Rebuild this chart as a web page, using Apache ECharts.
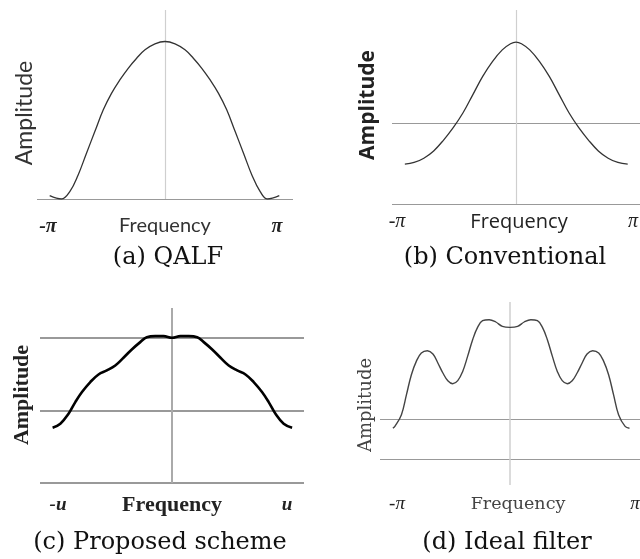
<!DOCTYPE html>
<html><head><meta charset="utf-8">
<script src="https://cdn.jsdelivr.net/npm/echarts@6/dist/echarts.min.js"></script>
<style>html,body{margin:0;padding:0;background:#fff}#c{width:640px;height:559px}</style>
</head><body><div id="c"></div>
<script>
// (a) QALF
var freqA = [-1.009, -0.906, -0.833, -0.76, -0.687, -0.614, -0.54, -0.467, -0.395, -0.322, -0.248, -0.175, -0.088, 0,
             0.088, 0.175, 0.248, 0.322, 0.395, 0.467, 0.54, 0.614, 0.687, 0.76, 0.833, 0.895, 1.0];
var ampA  = [0.021, 0.0, 0.047, 0.153, 0.291, 0.428, 0.566, 0.672, 0.756, 0.830, 0.894, 0.947, 0.985, 1.0,
             0.985, 0.947, 0.894, 0.830, 0.756, 0.672, 0.566, 0.428, 0.291, 0.153, 0.047, 0.0, 0.021];
// (b) Conventional
var freqB = [-0.995, -0.912, -0.825, -0.737, -0.65, -0.562, -0.474, -0.386, -0.298, -0.211, -0.123, -0.049, 0,
             0.049, 0.123, 0.211, 0.298, 0.386, 0.474, 0.562, 0.65, 0.737, 0.825, 0.912, 1.0];
var ampB  = [-0.507, -0.487, -0.434, -0.344, -0.213, -0.057, 0.127, 0.352, 0.577, 0.76, 0.904, 0.98, 1.0,
             0.98, 0.904, 0.76, 0.577, 0.352, 0.127, -0.057, -0.213, -0.344, -0.434, -0.487, -0.507];
// (c) Proposed scheme
var freqC = [-1.004, -0.939, -0.87, -0.813, -0.757, -0.687, -0.618, -0.548, -0.477, -0.408, -0.338, -0.267, -0.212, -0.141, -0.071, 0,
             0.071, 0.141, 0.212, 0.267, 0.338, 0.408, 0.477, 0.548, 0.618, 0.687, 0.757, 0.813, 0.87, 0.939, 1.01];
var ampC  = [-0.238, -0.183, -0.046, 0.114, 0.252, 0.39, 0.495, 0.55, 0.619, 0.725, 0.839, 0.94, 1.008, 1.022, 1.022, 1.0,
             1.022, 1.022, 1.008, 0.94, 0.839, 0.725, 0.619, 0.55, 0.495, 0.39, 0.252, 0.114, -0.046, -0.183, -0.238];
// (d) Ideal filter
var freqD = [-1.0, -0.983, -0.927, -0.884, -0.842, -0.8, -0.757, -0.706, -0.658, -0.616, -0.573, -0.531, -0.489, -0.446, -0.404, -0.362, -0.319, -0.277, -0.234, -0.178, -0.121, -0.065, 0,
             0.065, 0.121, 0.178, 0.234, 0.277, 0.319, 0.362, 0.404, 0.446, 0.489, 0.531, 0.573, 0.616, 0.658, 0.706, 0.757, 0.8, 0.842, 0.884, 0.927, 0.983, 1.02];
var ampD  = [-0.23, -0.185, 0.108, 0.608, 1.108, 1.44, 1.65, 1.708, 1.625, 1.4, 1.15, 0.958, 0.883, 0.958, 1.19, 1.565, 1.983, 2.29, 2.458, 2.483, 2.425, 2.315, 2.29,
             2.315, 2.425, 2.483, 2.458, 2.29, 1.983, 1.565, 1.19, 0.958, 0.883, 0.958, 1.15, 1.4, 1.625, 1.708, 1.65, 1.44, 1.108, 0.608, 0.108, -0.185, -0.23];

// reference lines (value positions)
var hLinesA = [0];
var hLinesB = [-1, 0];
var hLinesC = [-1, 0, 1];
var hLinesD = [-1, 0];

var captions = ['(a) QALF', '(b) Conventional', '(c) Proposed scheme', '(d) Ideal filter'];
var xLabelText = 'Frequency';
var yLabelText = 'Amplitude';
var edgeLabels = [['-\u03c0', '\u03c0'], ['-\u03c0', '\u03c0'], ['-u', 'u'], ['-\u03c0', '\u03c0']];

function zip(xs, ys) { return xs.map(function (x, i) { return [x, ys[i]]; }); }

var grids = [
  {left: 37, right: 347, top: 10, bottom: 360},
  {left: 392, right: -4, top: 10, bottom: 355},
  {left: 40, right: 336, top: 308, bottom: 76},
  {left: 380, right: -1, top: 302, bottom: 74}
];
var yRanges = [[0, 1.2], [-1, 1.397], [-1, 1.41], [-1.65, 2.925]];
var xRanges = [[-1.12, 1.12], [-1.11, 1.11], [-1.11, 1.11], [-1.11, 1.11]];
var dataSets = [zip(freqA, ampA), zip(freqB, ampB), zip(freqC, ampC), zip(freqD, ampD)];
var hLines = [hLinesA, hLinesB, hLinesC, hLinesD];
var curveStyle = [
  {color: '#333', width: 1.3},
  {color: '#333', width: 1.3},
  {color: '#000', width: 2.6},
  {color: '#444', width: 1.4}
];
var hColor = ['#999', '#999', '#999', '#999'];
var vColor = ['#cfcfcf', '#cfcfcf', '#aaa', '#cfcfcf'];
var hWidth = [1.2, 1.2, 2, 1.2];
var vWidth = [1.2, 1.2, 2, 1.5];

var xAxes = [], yAxes = [], series = [];
for (var i = 0; i < 4; i++) {
  xAxes.push({type: 'value', gridIndex: i, min: xRanges[i][0], max: xRanges[i][1], show: false});
  yAxes.push({type: 'value', gridIndex: i, min: yRanges[i][0], max: yRanges[i][1], show: false});
  var ml = hLines[i].map(function (v) { return {yAxis: v, lineStyle: {color: hColor[i], width: hWidth[i], type: 'solid'}}; });
  ml.push({xAxis: 0, lineStyle: {color: vColor[i], width: vWidth[i], type: 'solid'}});
  series.push({
    type: 'line', xAxisIndex: i, yAxisIndex: i, data: dataSets[i], smooth: 0.4,
    showSymbol: false, z: 5,
    lineStyle: {color: curveStyle[i].color, width: curveStyle[i].width},
    markLine: {silent: true, symbol: 'none', label: {show: false}, data: ml, z: 1}
  });
}

var ampStyles = [
  {fam: 'Lato', weight: 'normal', size: 23, col: '#333'},
  {fam: 'Open Sans', weight: 'bold', size: 21, col: '#222'},
  {fam: 'Liberation Serif', weight: 'bold', size: 22, col: '#222'},
  {fam: 'DejaVu Serif', weight: 'normal', size: 18, col: '#444'}
];
var freqStyles = [
  {fam: 'Lato', weight: 'normal', size: 20, col: '#333'},
  {fam: 'Open Sans', weight: 'normal', size: 20, col: '#222'},
  {fam: 'Liberation Serif', weight: 'bold', size: 22, col: '#222'},
  {fam: 'DejaVu Serif', weight: 'normal', size: 17.5, col: '#444'}
];
var edgeStyles = [
  {fam: 'Liberation Serif', weight: 'bold', size: 20},
  {fam: 'Liberation Serif', weight: 'normal', size: 20},
  {fam: 'Liberation Serif', weight: 'bold', size: 19},
  {fam: 'Liberation Serif', weight: 'normal', size: 19}
];
var ampPos = [[25, 113], [368, 105], [22, 395], [366, 405]];
var freqPos = [[165, 226], [519, 222], [172, 505], [518, 504]];
var edgePos = [[[48, 227], [277, 227]], [[397, 222], [633, 222]], [[58, 505], [287, 505]], [[397, 504], [635, 504]]];
var capPos = [[168, 258], [505, 258], [160, 543], [507, 543]];

var graphic = [];
for (var j = 0; j < 4; j++) {
  var as = ampStyles[j], fs = freqStyles[j], es = edgeStyles[j];
  graphic.push({type: 'text', x: ampPos[j][0], y: ampPos[j][1], rotation: Math.PI / 2,
    style: {text: yLabelText, fontFamily: as.fam, fontWeight: as.weight, fontSize: as.size, fill: as.col, align: 'center', verticalAlign: 'middle'}});
  graphic.push({type: 'text', x: freqPos[j][0], y: freqPos[j][1],
    style: {text: xLabelText, fontFamily: fs.fam, fontWeight: fs.weight, fontSize: fs.size, fill: fs.col, align: 'center', verticalAlign: 'middle'}});
  for (var k = 0; k < 2; k++) {
    graphic.push({type: 'text', x: edgePos[j][k][0], y: edgePos[j][k][1],
      style: {text: edgeLabels[j][k], fontFamily: es.fam, fontStyle: 'italic', fontWeight: es.weight, fontSize: es.size, fill: '#222', align: 'center', verticalAlign: 'middle'}});
  }
  graphic.push({type: 'text', x: capPos[j][0], y: capPos[j][1],
    style: {text: captions[j], fontFamily: 'DejaVu Serif', fontSize: 24, fill: '#111', align: 'center', verticalAlign: 'middle'}});
}

var chart = echarts.init(document.getElementById('c'), null, {renderer: 'canvas'});
chart.setOption({
  animation: false,
  backgroundColor: '#fff',
  grid: grids,
  xAxis: xAxes,
  yAxis: yAxes,
  series: series,
  graphic: graphic
});
</script>
</body></html>
